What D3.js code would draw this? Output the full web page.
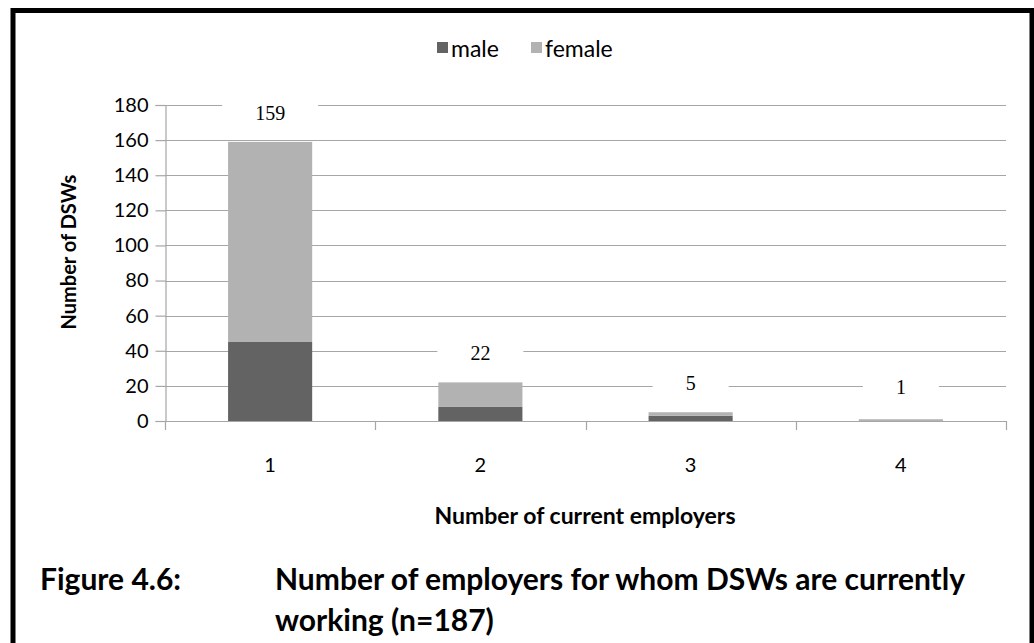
<!DOCTYPE html>
<html>
<head>
<meta charset="utf-8">
<script src="https://cdn.jsdelivr.net/npm/d3@7"></script>
<style>
  html, body { margin: 0; padding: 0; background: #fff; }
  svg { display: block; }
</style>
</head>
<body>
<svg id="chart" width="1034" height="643"></svg>
<script>
// Number of current employers per DSW, split by gender
const categories = ["1", "2", "3", "4"];
const maleValues = [45, 8, 3, 0];
const femaleValues = [114, 14, 2, 1];
const totals = [159, 22, 5, 1];
const seriesNames = ["male", "female"];
const seriesColors = ["#636363", "#b2b2b2"];
const yTicks = [0, 20, 40, 60, 80, 100, 120, 140, 160, 180];

const sans = "Lato, 'Open Sans', sans-serif";
const serif = "'Liberation Serif', 'Times New Roman', serif";

const svg = d3.select("#chart");

// frame around the figure
svg.append("path")
  .attr("d", "M13,645 L13,10.5 L1032,10.5 L1032,645")
  .attr("fill", "none")
  .attr("stroke", "#000")
  .attr("stroke-width", 5);

const plot = { left: 165, right: 1006, top: 105, bottom: 421 };

const x = d3.scaleBand()
  .domain(categories)
  .range([plot.left, plot.right])
  .paddingInner(0.6)
  .paddingOuter(0.3);

const xEdges = d3.scaleLinear()
  .domain([0, categories.length])
  .range([plot.left, plot.right]);

const y = d3.scaleLinear()
  .domain([0, 180])
  .range([plot.bottom, plot.top]);

// horizontal gridlines
svg.append("g")
  .selectAll("line")
  .data(yTicks.filter(v => v > 0))
  .join("line")
  .attr("x1", plot.left)
  .attr("x2", plot.right)
  .attr("y1", d => Math.round(y(d)) + 0.5)
  .attr("y2", d => Math.round(y(d)) + 0.5)
  .attr("stroke", "#a6a6a6")
  .attr("stroke-width", 1.2);

// y axis
const yAxis = svg.append("g")
  .attr("transform", `translate(${plot.left + 0.5},0)`)
  .call(d3.axisLeft(y).tickValues(yTicks).tickSize(10).tickPadding(7));
yAxis.select(".domain").attr("stroke", "#a6a6a6").attr("stroke-width", 1.2);
yAxis.selectAll(".tick line").attr("stroke", "#a6a6a6").attr("stroke-width", 1.2);
yAxis.selectAll(".tick text")
  .attr("font-family", sans)
  .attr("font-size", 20)
  .attr("fill", "#000");

// x axis baseline and category separators
const xg = svg.append("g");
xg.append("line")
  .attr("x1", plot.left).attr("x2", plot.right)
  .attr("y1", plot.bottom + 0.5).attr("y2", plot.bottom + 0.5)
  .attr("stroke", "#a6a6a6").attr("stroke-width", 1.2);
xg.selectAll("line.sep")
  .data(d3.range(categories.length + 1))
  .join("line")
  .attr("class", "sep")
  .attr("x1", d => Math.round(xEdges(d)) + 0.5)
  .attr("x2", d => Math.round(xEdges(d)) + 0.5)
  .attr("y1", plot.bottom)
  .attr("y2", plot.bottom + 9)
  .attr("stroke", "#a6a6a6").attr("stroke-width", 1.2);
xg.selectAll("text")
  .data(categories)
  .join("text")
  .attr("x", d => x(d) + x.bandwidth() / 2)
  .attr("y", 464)
  .attr("text-anchor", "middle")
  .attr("dominant-baseline", "central")
  .attr("font-family", sans)
  .attr("font-size", 20)
  .text(d => d);

// stacked bars
const rows = categories.map((c, i) => ({ cat: c, male: maleValues[i], female: femaleValues[i] }));
const stacked = d3.stack().keys(seriesNames)(rows);

svg.append("g")
  .selectAll("g")
  .data(stacked)
  .join("g")
  .attr("fill", (d, i) => seriesColors[i])
  .selectAll("rect")
  .data(d => d)
  .join("rect")
  .attr("x", d => x(d.data.cat))
  .attr("width", x.bandwidth())
  .attr("y", d => y(d[1]))
  .attr("height", d => y(d[0]) - y(d[1]));

// total labels on a white backing
const labels = svg.append("g");
totals.forEach((t, i) => {
  const cx = x(categories[i]) + x.bandwidth() / 2;
  const cy = Math.min(y(t) - 29, y(0) - 34);
  const txt = labels.append("text")
    .attr("x", cx)
    .attr("y", cy)
    .attr("text-anchor", "middle")
    .attr("dominant-baseline", "central")
    .attr("font-family", serif)
    .attr("font-size", 20)
    .text(t);
  const bb = txt.node().getBBox();
  labels.insert("rect", "text")
    .attr("x", bb.x - 33)
    .attr("y", bb.y)
    .attr("width", bb.width + 66)
    .attr("height", bb.height)
    .attr("fill", "#fff");
});

// legend
const legend = svg.append("g").attr("transform", "translate(437,48)");
const legendX = [0, 94];
seriesNames.forEach((name, i) => {
  const g = legend.append("g").attr("transform", `translate(${legendX[i]},0)`);
  g.append("rect")
    .attr("x", 0).attr("y", -6)
    .attr("width", 11).attr("height", 11)
    .attr("fill", seriesColors[i]);
  g.append("text")
    .attr("x", 14).attr("y", 0)
    .attr("dominant-baseline", "central")
    .attr("font-family", sans)
    .attr("font-size", 23)
    .text(name);
});

// axis titles
svg.append("text")
  .attr("transform", "translate(68,252) rotate(-90)")
  .attr("text-anchor", "middle")
  .attr("dominant-baseline", "central")
  .attr("font-family", sans)
  .attr("font-weight", "bold")
  .attr("font-size", 20)
  .text("Number of DSWs");

svg.append("text")
  .attr("x", 585)
  .attr("y", 515)
  .attr("text-anchor", "middle")
  .attr("dominant-baseline", "central")
  .attr("font-family", sans)
  .attr("font-weight", "bold")
  .attr("font-size", 23)
  .text("Number of current employers");

// figure caption
const cap = svg.append("g")
  .attr("font-family", sans)
  .attr("font-weight", "bold")
  .attr("font-size", 30);
cap.append("text").attr("x", 40).attr("y", 590).text("Figure 4.6:");
cap.append("text").attr("x", 275).attr("y", 590).text("Number of employers for whom DSWs are currently");
cap.append("text").attr("x", 275).attr("y", 631).text("working (n=187)");
</script>
</body>
</html>
